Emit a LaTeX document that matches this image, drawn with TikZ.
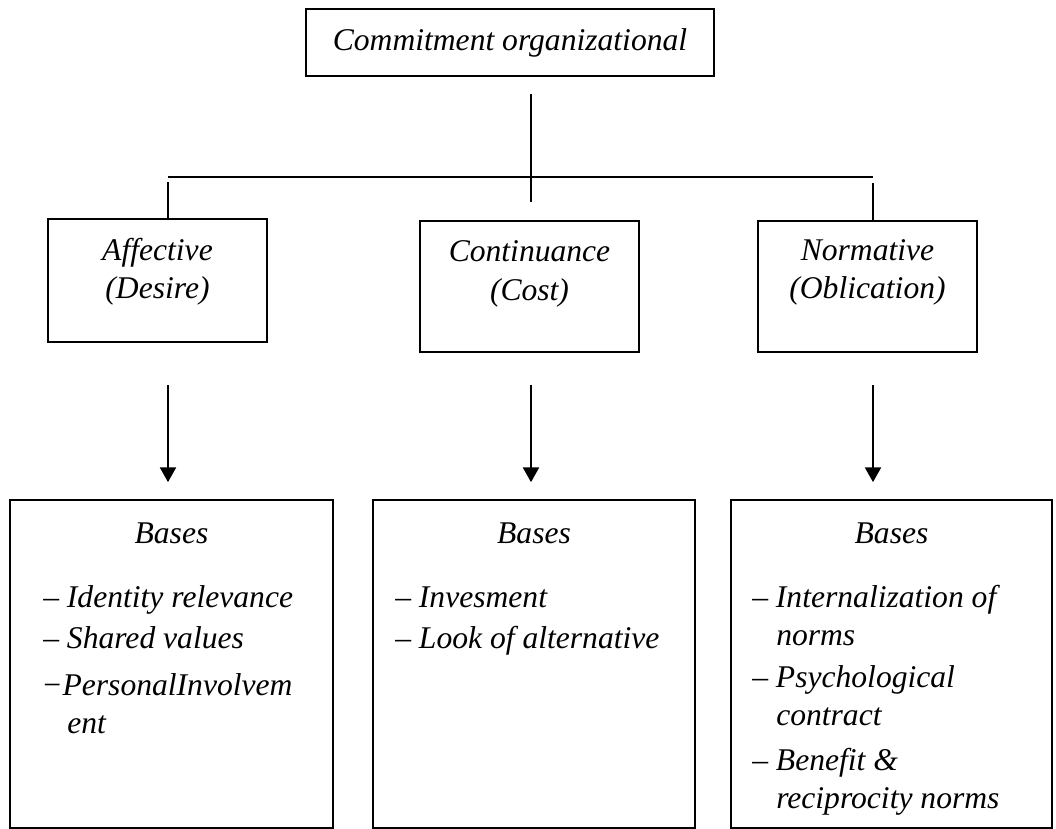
\documentclass[tikz,border=0pt]{standalone}
\usepackage{fontspec}
\setmainfont{Liberation Serif}
\usetikzlibrary{arrows.meta,fit}
\begin{document}
\begin{tikzpicture}[x=0.75pt,y=-0.75pt,
  box/.style={draw, line width=1.3pt, inner sep=0pt},
  txt/.style={font=\fontsize{23.7}{28}\selectfont\itshape, inner sep=0pt},
  conn/.style={line width=1.3pt},
  arr/.style={line width=1.3pt, -{Triangle[width=12pt,length=11pt]}, shorten >=12.75pt}]
\useasboundingbox (0,0) rectangle (1056,828);
% boxes
\node[box, fit={(306,9) (714,76)}] (top) {};
\node[box, fit={(48,219) (267,342)}] (aff) {};
\node[box, fit={(420,221) (639,352)}] (con) {};
\node[box, fit={(758,221) (977,352)}] (nor) {};
\node[box, fit={(10,500) (333,828)}] (ba) {};
\node[box, fit={(373,500) (695,828)}] (bc) {};
\node[box, fit={(731,500) (1052,828)}] (bn) {};
% connector points
\coordinate (c1) at (531,94);
\coordinate (c2) at (531,202);
\coordinate (hl) at (168,177);
\coordinate (hr) at (873,177);
\coordinate (l1) at (168,182);
\coordinate (r1) at (873,183);
\coordinate (a1) at (168,385);
\coordinate (a2) at (531,385);
\coordinate (a3) at (873,385);
% connectors
\draw[conn] (c1) -- (c2);
\draw[conn] (hl) -- (hr);
\draw[conn] (l1) -- (l1 |- aff.north);
\draw[conn] (r1) -- (r1 |- nor.north);
\draw[arr] (a1) -- (a1 |- ba.north);
\draw[arr] (a2) -- (a2 |- bc.north);
\draw[arr] (a3) -- (a3 |- bn.north);
% texts
\node[txt, anchor=base] (tt) at (510,50) {Commitment organizational};
\node[txt, anchor=base] (at1) at (157.5,260) {Affective};
\node[txt, anchor=base] (at2) at (157.5,298) {(Desire)};
\node[txt, anchor=base] (ct1) at (529.5,261) {Continuance};
\node[txt, anchor=base] (ct2) at (529.5,300) {(Cost)};
\node[txt, anchor=base] (nt1) at (867.5,260) {Normative};
\node[txt, anchor=base] (nt2) at (867.5,298) {(Oblication)};
\node[txt, anchor=base] (bat) at (171.5,543) {Bases};
\node[txt, anchor=base] (bct) at (534,543) {Bases};
\node[txt, anchor=base] (bnt) at (891.5,543) {Bases};
% left items
\node[txt, anchor=base west] (la1) at (43,607) {– Identity relevance};
\node[txt, anchor=base west] (la2) at (43,648) {– Shared values};
\node[txt, anchor=base west] (la3) at (41,695) {−PersonalInvolvem};
\node[txt, anchor=base west] (la4) at (67,733) {ent};
% middle items
\node[txt, anchor=base west] (lc1) at (395,607) {– Invesment};
\node[txt, anchor=base west] (lc2) at (395,648) {– Look of alternative};
% right items
\node[txt, anchor=base west] (ln1) at (752,607) {– Internalization of};
\node[txt, anchor=base west] (ln2) at (776,645) {norms};
\node[txt, anchor=base west] (ln3) at (752,687) {– Psychological};
\node[txt, anchor=base west] (ln4) at (776,725) {contract};
\node[txt, anchor=base west] (ln5) at (752,770) {– Benefit \&};
\node[txt, anchor=base west] (ln6) at (776,808) {reciprocity norms};
\end{tikzpicture}
\end{document}
